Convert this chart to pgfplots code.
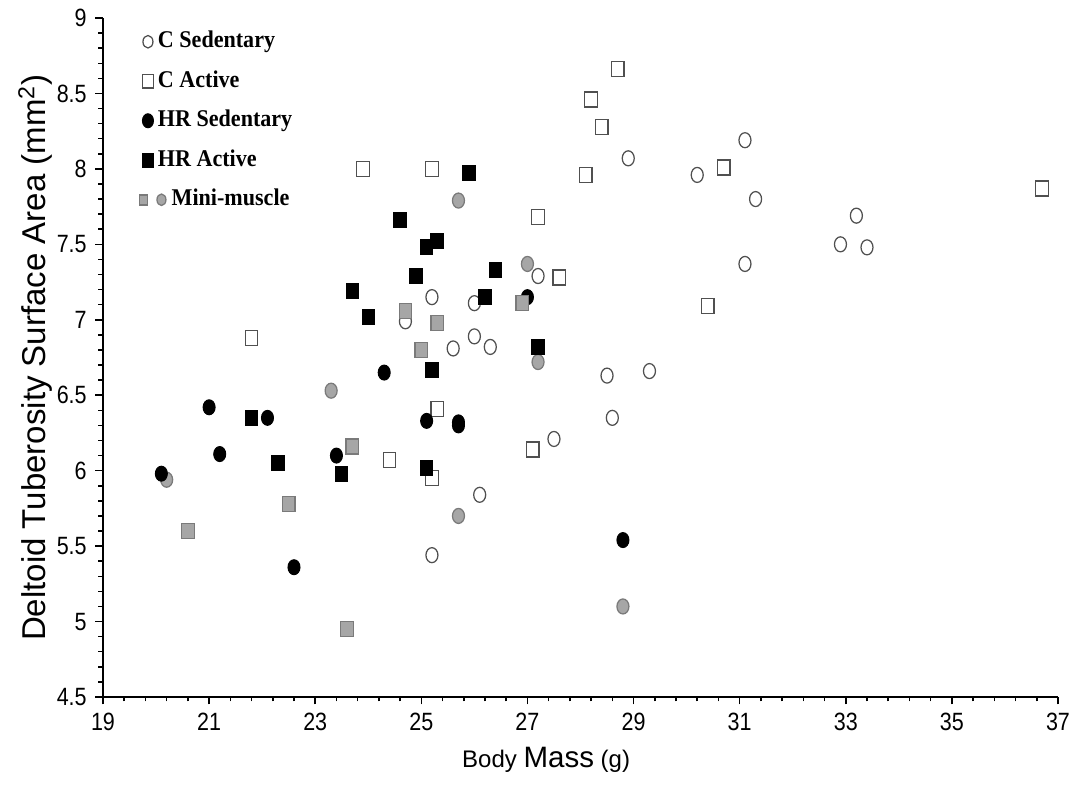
\documentclass[border=0pt]{standalone}
\usepackage{pgfplots}
\pgfplotsset{compat=1.18}
\usepackage{fontspec}
\setmainfont{Liberation Sans}
\newfontfamily\narrowfont{Liberation Sans}[FakeStretch=0.86]
\newfontfamily\legfont{Liberation Serif}[FakeStretch=0.92]
\definecolor{mmgray}{HTML}{A6A6A6}
\definecolor{mmedge}{HTML}{7A7A7A}
\definecolor{openedge}{HTML}{505050}

\pgfplotstableread{
x y
25.2 5.44
26.1 5.84
27.5 6.21
28.6 6.35
28.5 6.63
29.3 6.66
25.2 7.15
24.7 6.99
26.0 7.11
26.0 6.89
26.3 6.82
25.6 6.81
27.2 7.29
28.9 8.07
30.2 7.96
31.1 8.19
31.3 7.80
31.1 7.37
33.2 7.69
32.9 7.50
33.4 7.48
}\csed

\pgfplotstableread{
x y
28.7 8.66
28.2 8.46
28.4 8.28
28.1 7.96
30.7 8.01
36.7 7.87
27.2 7.68
27.6 7.28
30.4 7.09
23.9 8.00
25.2 8.00
21.8 6.88
25.3 6.41
27.1 6.14
24.4 6.07
25.2 5.95
}\cact

\pgfplotstableread{
x y
27.0 7.15
24.3 6.65
25.1 6.33
25.7 6.30
25.7 6.32
21.0 6.42
22.1 6.35
21.2 6.11
23.4 6.10
20.1 5.98
22.6 5.36
28.8 5.54
}\hrsed

\pgfplotstableread{
x y
25.9 7.97
24.6 7.66
25.3 7.52
25.1 7.48
26.4 7.33
24.9 7.29
23.7 7.19
26.2 7.15
24.0 7.02
27.2 6.82
25.2 6.67
21.8 6.35
22.3 6.05
23.5 5.98
25.1 6.02
}\hract

\pgfplotstableread{
x y
26.9 7.11
24.7 7.06
25.3 6.98
25.0 6.80
23.7 6.16
22.5 5.78
20.6 5.60
23.6 4.95
}\mmsq

\pgfplotstableread{
x y
25.7 7.79
27.0 7.37
27.2 6.72
23.3 6.53
20.2 5.94
25.7 5.70
28.8 5.10
}\mmci

\begin{document}
\begin{tikzpicture}
\useasboundingbox (-41.2pt,-36.4pt) rectangle (390pt,278.8pt);
\begin{axis}[
  at={(0,0)}, anchor=south west,
  scale only axis, width=382pt, height=271.6pt,
  xmin=19, xmax=37, ymin=4.5, ymax=9,
  xtick={19,21,23,25,27,29,31,33,35,37},
  ytick={4.5,5,5.5,6,6.5,7,7.5,8,8.5,9},
  minor x tick num=4, minor y tick num=4,
  axis x line*=bottom, axis y line*=left,
  axis line style={-, line width=0.8pt},
  tick align=outside, major tick length=3pt, minor tick length=1.8pt,
  every tick/.style={black, line width=0.6pt},
  tick label style={font=\narrowfont\fontsize{10}{11}\selectfont},
  /pgf/number format/assume math mode=true,
  yticklabel style={/pgf/number format/.cd, fixed, precision=1},
  xlabel={Body {\fontsize{11.8}{13}\selectfont Mass} (g)},
  xlabel style={font=\fontsize{9.6}{11}\selectfont, at={(axis description cs:0.464,-0.093)}, anchor=center},
  ylabel={Deltoid Tuberosity Surface Area (mm\textsuperscript{2})},
  ylabel style={font=\fontsize{13.2}{15}\selectfont, at={(axis description cs:-0.071,0.5)}, anchor=center},
  clip=false,
  legend style={at={(axis description cs:0.037,0.979)}, anchor=north west,
    draw=none, fill=none, inner sep=0pt, row sep=8pt,
    font=\legfont\bfseries\fontsize{9.6}{10}\selectfont,
    nodes={inner xsep=1.4pt, inner ysep=0pt, text height=6pt, text depth=1.8pt}},
  legend cell align=left,
]
% legend images
\addlegendimage{legend image code/.code={
  \path[draw=none, fill=none] (-2.6pt,-3pt) rectangle (2.6pt,3pt);
  \draw[openedge, fill=white, line width=0.5pt] (0,0.3pt) ellipse (2pt and 2.5pt);}}
\addlegendentry{C Sedentary}
\addlegendimage{legend image code/.code={
  \path[draw=none, fill=none] (-2.6pt,-3pt) rectangle (2.6pt,3pt);
  \draw[openedge, fill=white, line width=0.5pt] (-2.1pt,-2.4pt) rectangle (2.1pt,3pt);}}
\addlegendentry{C Active}
\addlegendimage{legend image code/.code={
  \path[draw=none, fill=none] (-2.6pt,-3pt) rectangle (2.6pt,3pt);
  \fill[black] (0,0.3pt) ellipse (2.2pt and 2.8pt);}}
\addlegendentry{HR Sedentary}
\addlegendimage{legend image code/.code={
  \path[draw=none, fill=none] (-2.6pt,-3pt) rectangle (2.6pt,3pt);
  \fill[black] (-2.2pt,-2.4pt) rectangle (2.2pt,3.1pt);}}
\addlegendentry{HR Active}
\addlegendimage{legend image code/.code={
  \path[draw=none, fill=none] (-2.6pt,-3pt) rectangle (2.6pt,3pt);
  \draw[mmedge, fill=mmgray, line width=0.5pt] (-3.4pt,-1.8pt) rectangle (-0.2pt,2.2pt);
  \draw[overlay, mmedge, fill=mmgray, line width=0.5pt] (5.4pt,0.3pt) ellipse (1.8pt and 2.3pt);}}
\addlegendentry{\hspace{5.5pt}Mini-muscle}

% data
\addplot[forget plot, only marks, mark=square*, mark size=2.5pt,
  mark options={fill=white, draw=openedge, line width=0.5pt, yscale=1.2}] table {\cact};
\addplot[forget plot, only marks, mark=*, mark size=2.4pt,
  mark options={fill=mmgray, draw=mmedge, line width=0.5pt, yscale=1.25}] table {\mmci};
\addplot[forget plot, only marks, mark=*, mark size=2.4pt,
  mark options={fill=white, draw=openedge, line width=0.5pt, yscale=1.25}] table {\csed};
\addplot[forget plot, only marks, mark=*, mark size=2.4pt,
  mark options={fill=black, draw=black, yscale=1.25}] table {\hrsed};
\addplot[forget plot, only marks, mark=square*, mark size=2.5pt,
  mark options={fill=black, draw=black, yscale=1.2}] table {\hract};
\addplot[forget plot, only marks, mark=square*, mark size=2.5pt,
  mark options={fill=mmgray, draw=mmedge, line width=0.5pt, yscale=1.2}] table {\mmsq};
\end{axis}
\end{tikzpicture}
\end{document}
